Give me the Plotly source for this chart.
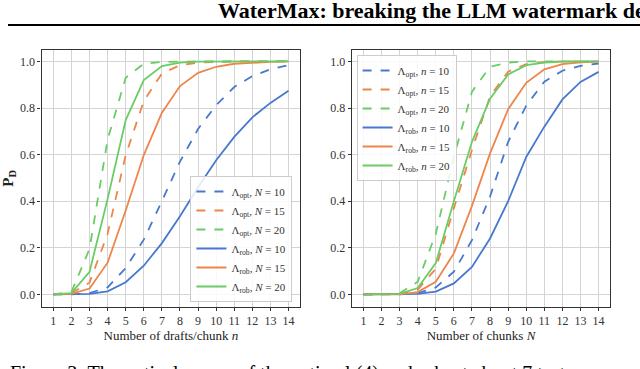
import plotly.graph_objects as go

# x values: drafts per chunk (left) and number of chunks (right)
n_vals = list(range(1, 15))
N_vals = list(range(1, 15))

# left panel: P_D vs n for several N
left_opt_10 = [0, 0, 0.005, 0.03, 0.113, 0.235, 0.40, 0.57, 0.71, 0.812, 0.89, 0.937, 0.966, 0.984]
left_opt_15 = [0, 0.005, 0.05, 0.26, 0.598, 0.83, 0.948, 0.984, 0.995, 0.999, 1.0, 1.0, 1.0, 1.0]
left_opt_20 = [0, 0.01, 0.195, 0.665, 0.93, 0.99, 0.998, 1.0, 1.0, 1.0, 1.0, 1.0, 1.0, 1.0]
left_rob_10 = [0, 0, 0.002, 0.013, 0.052, 0.123, 0.22, 0.335, 0.46, 0.576, 0.676, 0.76, 0.822, 0.874]
left_rob_15 = [0, 0.002, 0.025, 0.136, 0.36, 0.598, 0.78, 0.894, 0.951, 0.977, 0.99, 0.995, 0.998, 1.0]
left_rob_20 = [0, 0.005, 0.097, 0.41, 0.748, 0.92, 0.98, 0.995, 0.999, 1.0, 1.0, 1.0, 1.0, 1.0]

# right panel: P_D vs N for several n
right_opt_10 = [0, 0, 0, 0.005, 0.03, 0.097, 0.233, 0.42, 0.655, 0.81, 0.913, 0.96, 0.981, 0.991]
right_opt_15 = [0, 0, 0.002, 0.02, 0.11, 0.37, 0.62, 0.85, 0.956, 0.988, 0.997, 1.0, 1.0, 1.0]
right_opt_20 = [0, 0, 0.005, 0.054, 0.26, 0.59, 0.87, 0.977, 0.995, 1.0, 1.0, 1.0, 1.0, 1.0]
right_rob_10 = [0, 0, 0, 0.002, 0.012, 0.047, 0.118, 0.24, 0.40, 0.59, 0.72, 0.837, 0.912, 0.955]
right_rob_15 = [0, 0, 0, 0.01, 0.054, 0.176, 0.38, 0.605, 0.795, 0.908, 0.966, 0.988, 0.996, 0.999]
right_rob_20 = [0, 0, 0.002, 0.027, 0.134, 0.40, 0.655, 0.84, 0.944, 0.984, 0.995, 0.999, 1.0, 1.0]

sizes = [10, 15, 20]
colors = ['#4878D0', '#EE854A', '#6ACC64']
FONT = "Liberation Serif"

fig = go.Figure()

left_series = [("opt", left_opt_10), ("opt", left_opt_15), ("opt", left_opt_20),
               ("rob", left_rob_10), ("rob", left_rob_15), ("rob", left_rob_20)]
right_series = [("opt", right_opt_10), ("opt", right_opt_15), ("opt", right_opt_20),
                ("rob", right_rob_10), ("rob", right_rob_15), ("rob", right_rob_20)]

for i, (kind, ys) in enumerate(left_series):
    fig.add_trace(go.Scatter(
        x=n_vals, y=ys, mode='lines', xaxis='x', yaxis='y', legend='legend',
        name=f"Λ<sub>{kind}</sub>, <i>N</i> = {sizes[i % 3]}",
        line=dict(color=colors[i % 3], width=1.8, dash='dash' if kind == 'opt' else 'solid'),
    ))

for i, (kind, ys) in enumerate(right_series):
    fig.add_trace(go.Scatter(
        x=N_vals, y=ys, mode='lines', xaxis='x2', yaxis='y2', legend='legend2',
        name=f"Λ<sub>{kind}</sub>, <i>n</i> = {sizes[i % 3]}",
        line=dict(color=colors[i % 3], width=1.8, dash='dash' if kind == 'opt' else 'solid'),
    ))

W, H = 640, 369
ydom = [1 - 306.7 / H, 1 - 50 / H]

axis_common = dict(
    showline=True, mirror=True, linecolor='#333333', linewidth=1.2,
    showgrid=True, gridcolor='#d4d4d4', gridwidth=1,
    ticks='outside', ticklen=3, tickcolor='#333333',
    tickfont=dict(family=FONT, size=12, color='#333333'),
    zeroline=False,
)
xcommon = dict(axis_common, range=[0.35, 14.65], tickmode='linear', tick0=1, dtick=1)
ycommon = dict(axis_common, range=[-0.053, 1.049], tickvals=[0, 0.2, 0.4, 0.6, 0.8, 1.0],
               tickformat='.1f')

legend_common = dict(
    bgcolor='rgba(255,255,255,0.85)', bordercolor='#cccccc', borderwidth=1,
    font=dict(family=FONT, size=11, color='#333333'), tracegroupgap=0,
)

fig.update_layout(
    width=W, height=H,
    margin=dict(l=0, r=0, t=0, b=0),
    plot_bgcolor='white', paper_bgcolor='white',
    showlegend=True,
    xaxis=dict(xcommon, domain=[34 / W, 296 / W], anchor='y',
               title=dict(text="Number of drafts/chunk <i>n</i>", standoff=3,
                          font=dict(family=FONT, size=13, color='#222222'))),
    yaxis=dict(ycommon, domain=ydom, anchor='x',
               title=dict(text="<b>P<sub>D</sub></b>", standoff=10,
                          font=dict(family=FONT, size=15, color='#222222'))),
    xaxis2=dict(xcommon, domain=[348 / W, 610 / W], anchor='y2',
                title=dict(text="Number of chunks <i>N</i>", standoff=3,
                           font=dict(family=FONT, size=13, color='#222222'))),
    yaxis2=dict(ycommon, domain=ydom, anchor='x2'),
    legend=dict(legend_common, x=288 / W, y=1 - 302 / H, xanchor='right', yanchor='bottom'),
    legend2=dict(legend_common, x=353 / W, y=1 - 55 / H, xanchor='left', yanchor='top'),
)

# page header from the paper and rule below it
fig.add_annotation(
    text="<b>WaterMax: breaking the LLM watermark detectability-robustness-quality trade-off</b>",
    xref='paper', yref='paper', x=211 / W, y=1 + 4 / H, xanchor='left', yanchor='top',
    showarrow=False, font=dict(family=FONT, size=22, color='black'),
)
fig.add_shape(type='line', xref='paper', yref='paper', x0=0, x1=1,
              y0=1 - 25 / H, y1=1 - 25 / H, line=dict(color='black', width=2))

# caption (cut off at the bottom edge)
fig.add_annotation(
    text="Figure 3: Theoretical power of the optimal (4) and robust about 7 tests",
    xref='paper', yref='paper', x=0, y=1 - 360 / H, xanchor='left', yanchor='top',
    showarrow=False, font=dict(family=FONT, size=20, color='black'),
)

fig.write_html("out.html", config={'displayModeBar': False},
               post_script="document.body.style.margin='0';")
